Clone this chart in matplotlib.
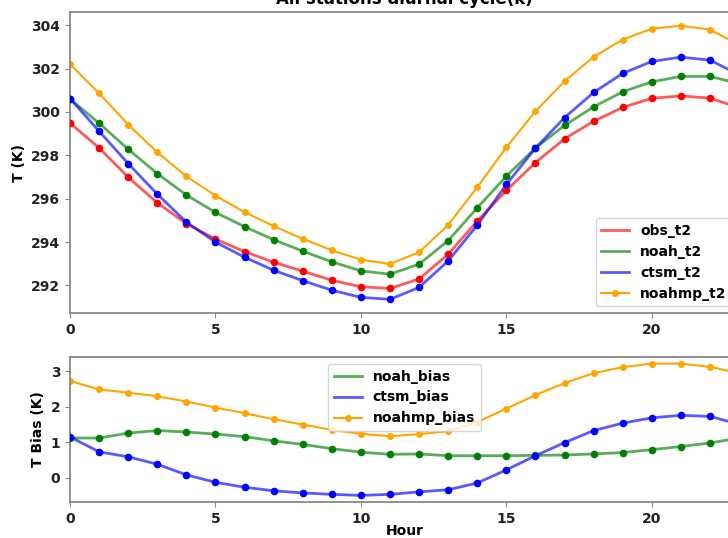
import matplotlib.pyplot as plt

# Stunden und Temperaturen (K)
hours = list(range(24))
obs_t2 = [299.49, 298.34, 296.99, 295.81, 294.85, 294.14, 293.56, 293.07, 292.66, 292.24,
          291.94, 291.86, 292.30, 293.44, 294.97, 296.38, 297.67, 298.76, 299.57, 300.21,
          300.63, 300.74, 300.64, 300.20]
noah_t2 = [300.60, 299.48, 298.28, 297.16, 296.17, 295.37, 294.71, 294.11, 293.58, 293.09,
           292.67, 292.52, 292.98, 294.07, 295.58, 297.04, 298.34, 299.38, 300.24, 300.93,
           301.39, 301.64, 301.64, 301.31]
ctsm_t2 = [300.62, 299.11, 297.62, 296.21, 294.92, 294.00, 293.30, 292.70, 292.22, 291.78,
           291.45, 291.36, 291.91, 293.13, 294.78, 296.66, 298.33, 299.74, 300.90, 301.78,
           302.33, 302.53, 302.39, 301.72]
noahmp_t2 = [302.21, 300.86, 299.42, 298.14, 297.03, 296.14, 295.38, 294.74, 294.15, 293.62,
             293.19, 292.99, 293.53, 294.79, 296.53, 298.37, 300.03, 301.42, 302.54, 303.34,
             303.84, 303.98, 303.80, 303.10]

# Bias gegenueber obs_t2 (K)
noah_bias = [1.12, 1.12, 1.26, 1.33, 1.29, 1.23, 1.16, 1.04, 0.94, 0.82, 0.72, 0.66,
             0.67, 0.62, 0.62, 0.62, 0.63, 0.64, 0.67, 0.71, 0.79, 0.88, 0.98, 1.12]
ctsm_bias = [1.15, 0.73, 0.59, 0.38, 0.08, -0.13, -0.27, -0.37, -0.43, -0.47, -0.50, -0.47,
             -0.40, -0.34, -0.15, 0.22, 0.62, 0.99, 1.33, 1.54, 1.69, 1.76, 1.73, 1.51]
noahmp_bias = [2.73, 2.49, 2.40, 2.30, 2.15, 1.98, 1.82, 1.65, 1.50, 1.35, 1.24, 1.17,
               1.23, 1.31, 1.57, 1.95, 2.33, 2.67, 2.95, 3.12, 3.22, 3.22, 3.13, 2.95]

plt.rcParams['font.weight'] = 'bold'
plt.rcParams['axes.labelweight'] = 'bold'
plt.rcParams['axes.titleweight'] = 'bold'
plt.rcParams['font.size'] = 10
plt.rcParams['axes.edgecolor'] = '#888888'
plt.rcParams['axes.linewidth'] = 1.3
plt.rcParams['xtick.color'] = '#888888'
plt.rcParams['ytick.color'] = '#888888'
plt.rcParams['xtick.labelcolor'] = '#222222'
plt.rcParams['ytick.labelcolor'] = '#222222'

fig = plt.figure(figsize=(7.28, 5.38), dpi=100)
# Achsen ragen rechts ueber den Bildrand hinaus (Ausschnitt)
ax1 = fig.add_axes([0.0962, 0.4182, 0.919, 0.5595])
ax2 = fig.add_axes([0.0962, 0.0669, 0.919, 0.2695])

# Temperatur-Tagesgang
ax1.plot(hours, obs_t2, color='red', lw=2, alpha=0.65, label='obs_t2')
ax1.scatter(hours, obs_t2, color='red', s=20, zorder=3)
ax1.plot(hours, noah_t2, color='green', lw=2, alpha=0.65, label='noah_t2')
ax1.scatter(hours, noah_t2, color='green', s=20, zorder=3)
ax1.plot(hours, ctsm_t2, color='blue', lw=2, alpha=0.65, label='ctsm_t2')
ax1.scatter(hours, ctsm_t2, color='blue', s=20, zorder=3)
ax1.plot(hours, noahmp_t2, 'o-', color='orange', lw=1.5, markersize=4, label='noahmp_t2')
ax1.set_xlim(0, 23)
ax1.set_ylabel('T (K)')
ax1.set_title('All stations diurnal cycle(k)', fontsize=12)
ax1.legend(loc='lower right')

# Bias
ax2.plot(hours, noah_bias, color='green', lw=2, alpha=0.65, label='noah_bias')
ax2.scatter(hours, noah_bias, color='green', s=20, zorder=3)
ax2.plot(hours, ctsm_bias, color='blue', lw=2, alpha=0.65, label='ctsm_bias')
ax2.scatter(hours, ctsm_bias, color='blue', s=20, zorder=3)
ax2.plot(hours, noahmp_bias, 'o-', color='orange', lw=1.5, markersize=4, label='noahmp_bias')
ax2.set_xlim(0, 23)
ax2.set_xlabel('Hour')
ax2.xaxis.set_label_coords(0.5, -0.15)
ax2.set_ylabel('T Bias (K)')
ax2.legend(loc='upper center')

plt.savefig('out.png', dpi=100)
plt.close()
